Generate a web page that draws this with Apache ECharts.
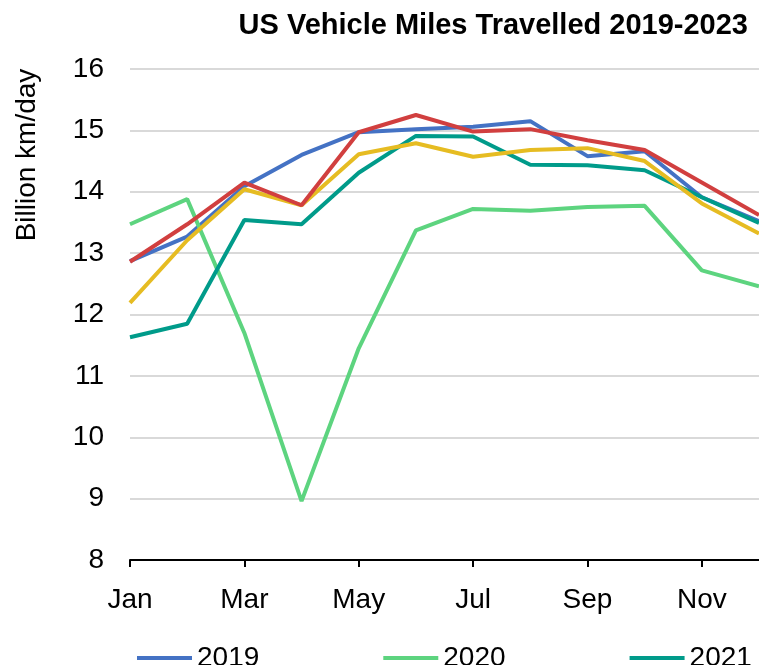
<!DOCTYPE html>
<html>
<head>
<meta charset="utf-8">
<script src="https://cdn.jsdelivr.net/npm/echarts@6/dist/echarts.min.js"></script>
<style>
  html, body { margin: 0; padding: 0; background: #fff; }
  #chart { width: 759px; height: 665px; }
</style>
</head>
<body>
<div id="chart"></div>
<script>
const months = ["Jan", "Feb", "Mar", "Apr", "May", "Jun", "Jul", "Aug", "Sep", "Oct", "Nov", "Dec"];
const years = ["2019", "2020", "2021", "2022", "2023"];

const v2019 = [12.87, 13.27, 14.09, 14.60, 14.97, 15.02, 15.06, 15.15, 14.58, 14.66, 13.91, 13.52];
const v2020 = [13.47, 13.88, 11.70, 8.96, 11.45, 13.37, 13.72, 13.69, 13.75, 13.77, 12.72, 12.46];
const v2021 = [11.63, 11.85, 13.54, 13.47, 14.31, 14.91, 14.90, 14.44, 14.43, 14.35, 13.91, 13.49];
const v2022 = [12.19, 13.21, 14.04, 13.78, 14.61, 14.79, 14.57, 14.68, 14.71, 14.50, 13.81, 13.32];
const v2023 = [12.86, 13.47, 14.15, 13.78, 14.97, 15.25, 14.98, 15.02, 14.84, 14.68, 14.15, 13.62];

const colors = {
  y2019: "#4472c4",
  y2020: "#5dd47f",
  y2021: "#009b8a",
  y2022: "#e6bc22",
  y2023: "#d13f3f",
  text: "#000000",
  grid: "#d9d9d9",
};

const font = "Liberation Sans, Arial, sans-serif";

const chart = echarts.init(document.getElementById("chart"), null, { renderer: "canvas" });

const makeSeries = (name, data, color) => ({
  name: name,
  type: "line",
  data: data,
  symbol: "none",
  smooth: false,
  lineStyle: { color: color, width: 4 },
  itemStyle: { color: color },
});

const options = {
  animation: false,
  backgroundColor: "#ffffff",
  title: {
    text: "US Vehicle Miles Travelled 2019-2023",
    right: 6,
    top: 6,
    textStyle: {
      fontFamily: font,
      fontWeight: "bold",
      fontSize: 29,
      color: colors.text,
    },
  },
  graphic: [
    {
      type: "text",
      x: 27,
      y: 155,
      rotation: Math.PI / 2,
      style: {
        text: "Billion km/day",
        font: "28px " + font,
        fill: colors.text,
        textAlign: "center",
        textVerticalAlign: "middle",
      },
    },
  ],
  legend: {
    left: 132,
    top: 639,
    width: 640,
    icon: "rect",
    itemWidth: 55,
    itemHeight: 4,
    itemGap: 124,
    textStyle: { fontFamily: font, fontSize: 28, color: colors.text },
    data: years,
  },
  grid: {
    left: 130,
    right: 0,
    top: 69,
    bottom: 105,
    containLabel: false,
  },
  xAxis: {
    type: "category",
    data: months,
    boundaryGap: false,
    axisLine: { lineStyle: { color: "#000", width: 2 } },
    axisTick: {
      interval: 1,
      length: 7,
      lineStyle: { color: "#000", width: 2 },
    },
    axisLabel: {
      interval: 1,
      margin: 26,
      fontFamily: font,
      fontSize: 28,
      color: colors.text,
    },
    splitLine: { show: false },
  },
  yAxis: {
    type: "value",
    min: 8,
    max: 16,
    interval: 1,
    axisLine: { show: false },
    axisTick: { show: false },
    axisLabel: {
      margin: 26,
      fontFamily: font,
      fontSize: 28,
      color: colors.text,
    },
    splitLine: { lineStyle: { color: colors.grid, width: 2 } },
  },
  series: [
    makeSeries("2019", v2019, colors.y2019),
    makeSeries("2020", v2020, colors.y2020),
    makeSeries("2021", v2021, colors.y2021),
    makeSeries("2022", v2022, colors.y2022),
    makeSeries("2023", v2023, colors.y2023),
  ],
};

chart.setOption(options);
</script>
</body>
</html>
